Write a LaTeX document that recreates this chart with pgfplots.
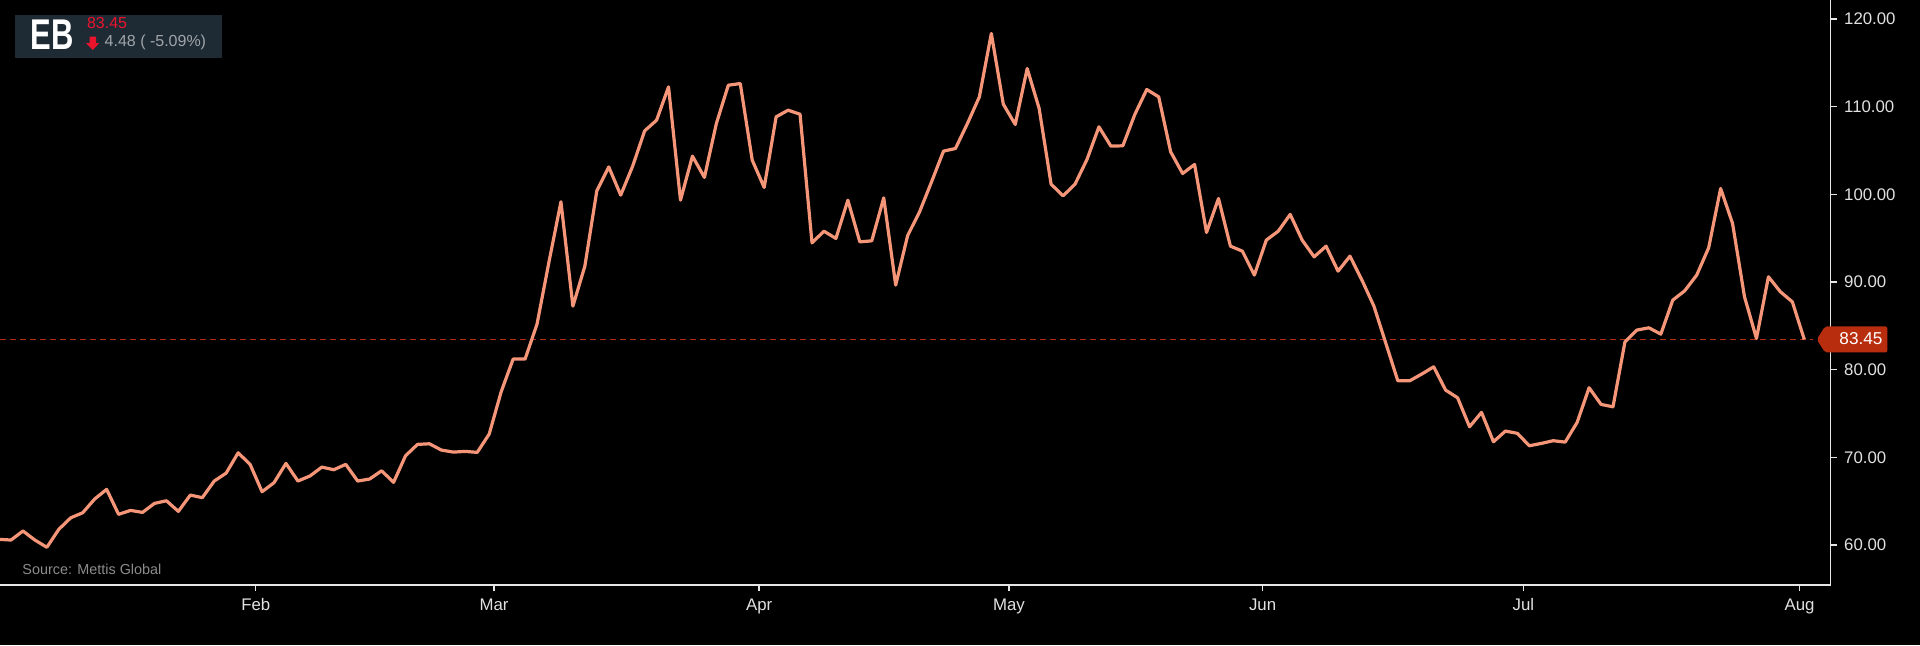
\documentclass[border=0pt]{standalone}
\usepackage{pgfplots}
\pgfplotsset{compat=1.18}
\usepackage{fontspec}
\setmainfont{Liberation Sans}
\usepackage{graphicx}
\definecolor{linecol}{RGB}{245,150,120}
\definecolor{dashcol}{RGB}{180,45,20}
\definecolor{tagcol}{RGB}{185,45,15}
\definecolor{axcol}{RGB}{230,230,230}
\definecolor{labcol}{RGB}{225,225,225}
\definecolor{srccol}{RGB}{140,140,140}
\definecolor{badgecol}{RGB}{30,42,52}
\definecolor{upred}{RGB}{235,20,45}
\definecolor{chgcol}{RGB}{160,165,170}
\pgfplotstableread{
j v
0 60.65
1 60.57
2 61.60
3 60.57
4 59.74
5 61.79
6 63.11
7 63.68
8 65.25
9 66.35
10 63.50
11 63.95
12 63.72
13 64.75
14 65.05
15 63.84
16 65.70
17 65.40
18 67.30
19 68.21
20 70.52
21 69.20
22 66.08
23 67.11
24 69.31
25 67.30
26 67.87
27 68.89
28 68.59
29 69.20
30 67.30
31 67.53
32 68.47
33 67.15
34 70.18
35 71.48
36 71.55
37 70.83
38 70.60
39 70.68
40 70.57
41 72.66
42 77.48
43 81.21
44 81.21
45 85.20
46 92.30
47 99.15
48 87.25
49 91.81
50 100.40
51 103.13
52 99.91
53 103.22
54 107.24
55 108.46
56 112.26
57 99.34
58 104.36
59 101.93
60 108.08
61 112.45
62 112.64
63 103.90
64 100.79
65 108.84
66 109.60
67 109.14
68 94.47
69 95.80
70 94.97
71 99.34
72 94.58
73 94.70
74 99.60
75 89.65
76 95.30
77 98.01
78 101.43
79 104.93
80 105.23
81 108.08
82 111.12
83 118.35
84 110.29
85 107.97
86 114.35
87 109.79
88 101.16
89 99.83
90 101.16
91 103.98
92 107.70
93 105.50
94 105.54
95 109.11
96 111.96
97 111.12
98 104.85
99 102.38
100 103.41
101 95.65
102 99.53
103 94.09
104 93.52
105 90.79
106 94.78
107 95.80
108 97.71
109 94.78
110 92.87
111 94.09
112 91.24
113 92.95
114 90.22
115 87.25
116 83.00
117 78.74
118 78.74
119 79.50
120 80.33
121 77.67
122 76.80
123 73.49
124 75.13
125 71.78
126 73.00
127 72.74
128 71.32
129 71.59
130 71.90
131 71.74
132 73.99
133 77.94
134 76.04
135 75.77
136 83.18
137 84.52
138 84.78
139 84.06
140 87.94
141 89.00
142 90.79
143 93.90
144 100.67
145 96.68
146 88.31
147 83.56
148 90.60
149 88.89
150 87.74
151 83.45
}\pricetable
\begin{document}
\begin{tikzpicture}
\path[use as bounding box, fill=black] (0,0) rectangle (960pt,322.5pt);
\begin{axis}[
  at={(0pt,30pt)}, anchor=south west,
  scale only axis, width=915.35pt, height=292.5pt,
  xmin=0.08, xmax=153.21, ymin=55.44, ymax=122.17,
  axis x line*=bottom, axis y line*=right,
  axis line style={draw=axcol, line width=0.75pt, -},
  ytick={60,70,80,90,100,110,120},
  yticklabels={60.00,70.00,80.00,90.00,100.00,110.00,120.00},
  xtick={21.47,41.40,63.58,84.48,105.69,127.5,150.6},
  xticklabels={Feb,Mar,Apr,May,Jun,Jul,Aug},
  tick align=outside,
  major tick length=3.2pt,
  tick style={draw=axcol, line width=0.75pt},
  ticklabel style={font=\fontsize{8.4}{10}\selectfont, text=labcol},
  yticklabel style={anchor=west},
  xticklabel style={anchor=north},
]
\addplot[dashcol, line width=0.5pt, dash pattern=on 2.8pt off 2.2pt] coordinates {(0.08,83.45) (151.73,83.45)};
\addplot[linecol, line width=1.6pt, line join=round, no markers] table[x=j, y=v] {\pricetable};
\coordinate (tagtip) at (axis cs:152.04,83.45);
\end{axis}
% price tag at right
\fill[tagcol, rounded corners=1pt] (tagtip) -- ++(4.15pt,6.5pt) -- ++(31.15pt,0) -- ++(0,-13pt) -- ++(-31.15pt,0) -- cycle;
\node[anchor=base west, inner sep=0pt, text=white, font=\fontsize{8.6}{10}\selectfont] at ([xshift=11.15pt, yshift=-2.65pt]tagtip) {83.45};
% source
\node[anchor=base west, inner sep=0pt, text=srccol, font=\fontsize{7.2}{9}\selectfont] at (11pt,35.5pt) {Source: Mettis Global};
% badge
\fill[badgecol] (7.5pt,293.5pt) rectangle (110.85pt,315pt);
\node[anchor=base west, inner sep=0pt, text=white] at (15pt,297.6pt) {\scalebox{0.72}[1]{\fontsize{21.5}{22}\selectfont\bfseries EB}};
\node[anchor=base west, inner sep=0pt, text=upred, font=\fontsize{8}{8}\selectfont] at (43.35pt,308.3pt) {83.45};
\fill[upred] (44.75pt,304.15pt) -- (48pt,304.15pt) -- (48pt,301pt) -- (49.65pt,301pt) -- (46.4pt,297.5pt) -- (43pt,301pt) -- (44.75pt,301pt) -- cycle;
\node[anchor=base west, inner sep=0pt, text=chgcol, font=\fontsize{8}{8}\selectfont] at (52.15pt,299.15pt) {4.48 ( -5.09\%)};
\end{tikzpicture}
\end{document}
